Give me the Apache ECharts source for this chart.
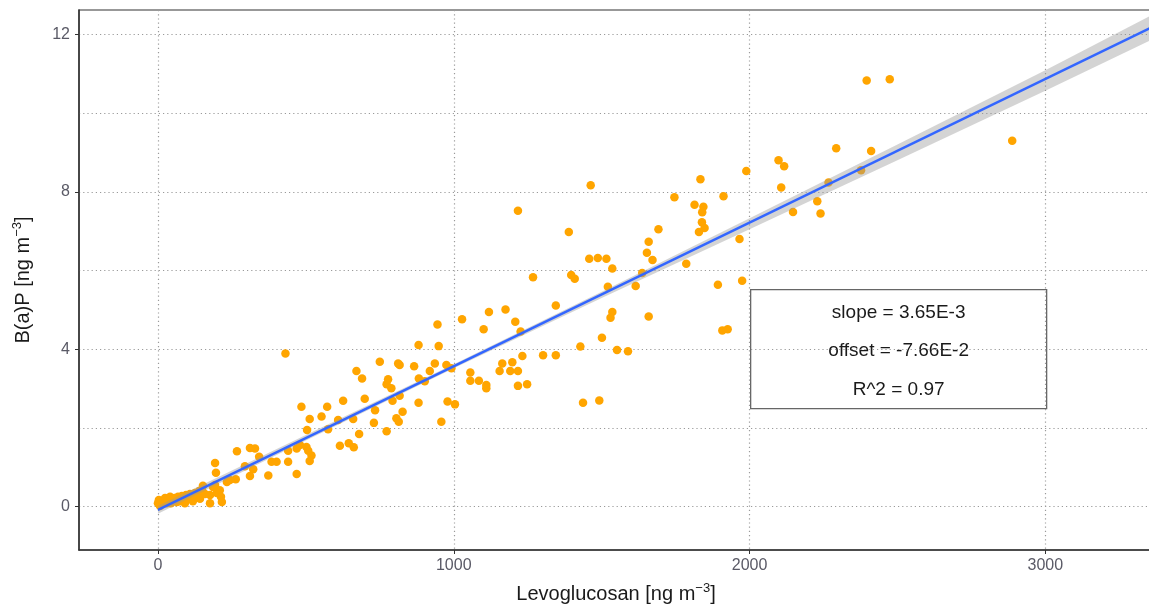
<!DOCTYPE html>
<html>
<head>
<meta charset="utf-8">
<script src="https://cdn.jsdelivr.net/npm/echarts@6/dist/echarts.min.js"></script>
<style>html,body{margin:0;padding:0;background:#fff;overflow:hidden;}#c{width:1149px;height:605px;}</style>
</head>
<body>
<div id="c"></div>
<script>
// Levoglucosan [ng m-3] (x) and B(a)P [ng m-3] (y)
const levoglucosan = [
  0,7,3,14,17,24,30,34,41,44,51,57,64,68,74,81,84,91,95,101,108,115,118,125,132,139,142,149,152,159,
  176,176,193,196,193,199,209,213,216,186,233,243,263,267,294,311,
  431,328,311,342,322,373,384,401,440,440,469,469,480,502,508,519,513,504,485,513,553,572,575,615,645,662,
  609,626,660,680,671,690,699,730,734,750,773,773,778,789,793,812,817,817,806,814,827,866,881,882,881,902,
  919,936,945,949,958,975,979,992,1004,1028,1056,1056,1085,1110,1110,1101,1119,1155,1164,1175,1191,1198,
  1208,1217,1217,1226,1232,1248,1302,
  1463,1834,1989,1217,1389,1746,1814,1844,1840,1912,1839,1848,1829,1692,1659,1653,1672,1966,1458,1487,
  1516,1536,1786,1268,1397,1409,1637,1521,1615,1893,1975,1345,1536,1530,1659,1501,1428,1345,1552,1589,
  1908,1926,1437,1492,
  2396,2474,2888,2293,2411,2098,2117,2377,2267,2107,2229,2147,2240
];
const bap = [
  0.09,0.02,0.17,0.07,0.14,0.22,0.09,0.20,0.25,0.09,0.17,0.22,0.12,0.25,0.14,0.27,0.17,0.09,0.30,0.20,0.32,0.22,0.14,0.35,0.27,0.40,0.20,0.42,0.53,0.32,
  0.30,0.09,1.11,0.86,0.55,0.35,0.42,0.25,0.12,0.50,0.63,0.68,0.70,1.41,1.03,0.78,
  3.89,1.48,1.49,1.27,0.95,0.79,1.14,1.14,1.14,1.42,0.83,1.48,1.57,1.52,1.42,1.30,1.16,1.95,2.54,2.23,2.29,2.54,1.97,1.55,1.61,1.51,
  2.20,2.69,2.23,1.85,3.45,3.26,2.74,2.13,2.45,3.68,1.92,3.11,3.24,3.01,2.69,3.64,3.60,2.82,2.25,2.16,2.41,3.57,4.11,3.26,2.64,3.19,
  3.45,3.64,4.63,4.08,2.16,3.60,2.67,3.52,2.60,4.76,3.41,3.20,3.20,3.09,3.01,4.51,4.95,3.45,3.64,5.01,3.45,3.67,
  4.70,3.45,3.07,4.45,3.83,3.11,3.85,
  8.17,8.32,8.53,7.52,6.98,7.86,7.67,7.62,7.48,7.89,7.23,7.08,6.98,7.05,6.73,6.45,6.27,6.80,6.30,6.32,
  6.30,6.05,6.17,5.83,5.89,5.79,5.94,5.59,5.61,5.64,5.74,5.11,4.95,4.80,4.83,4.29,4.07,3.85,3.98,3.95,
  4.48,4.51,2.64,2.70,
  10.83,10.86,9.30,9.11,9.04,8.80,8.65,8.55,8.24,8.11,7.76,7.49,7.45
];
// fitted line and its confidence band
const fitX = [0, 3400];
const fitY = [-0.08, 12.33];
const bandX = [0, 500, 1000, 1500, 2000, 2500, 3000, 3400];
const bandLow = [-0.18, 1.68, 3.52, 5.30, 7.05, 8.80, 10.57, 12.01];
const bandHigh = [0.02, 1.82, 3.62, 5.46, 7.33, 9.20, 11.09, 12.65];
const xTicks = [0, 1000, 2000, 3000];
const yTicks = [0, 4, 8, 12];
const yGrid = [0, 2, 4, 6, 8, 10, 12];
const stats = ['slope = 3.65E-3', 'offset = -7.66E-2', 'R^2 = 0.97'];

const chart = echarts.init(document.getElementById('c'), null, {renderer: 'canvas'});
const FONT = '"Liberation Sans", Arial, sans-serif';
const points = levoglucosan.map((x, i) => [x, bap[i]]);
const dotted = {color: '#9a9a9a', width: 1.2, type: [1.2, 3]};
const titleRich = {
  n: {fontSize: 20, color: '#1a1a1a', fontFamily: FONT, lineHeight: 24},
  s: {fontSize: 13, color: '#1a1a1a', fontFamily: FONT, lineHeight: 24, verticalAlign: 'top'}
};

chart.setOption({
  animation: false,
  backgroundColor: '#ffffff',
  grid: {left: 79, right: -4, top: 10, bottom: 55, containLabel: false, outerBoundsMode: 'none',
         show: true, borderColor: '#333', borderWidth: 1.2, backgroundColor: 'transparent'},
  xAxis: {
    type: 'value', min: -267, max: 3364,
    axisLine: {show: true, onZero: false, lineStyle: {color: '#333', width: 1.5}},
    axisTick: {show: true, length: 4, customValues: xTicks, lineStyle: {color: '#333', width: 1}},
    axisLabel: {customValues: xTicks, margin: 8, fontSize: 16, color: '#5a5a66', fontFamily: FONT, formatter: v => String(v)},
    splitLine: {show: true, lineStyle: dotted},
    name: '{n|Levoglucosan [ng m}{s|−3}{n|]}',
    nameLocation: 'middle', nameGap: 32,
    nameTextStyle: {rich: titleRich}
  },
  yAxis: [{
    type: 'value', min: -1.10, max: 12.62,
    axisLine: {show: true, onZero: false, lineStyle: {color: '#333', width: 1.5}},
    axisTick: {show: true, length: 4, customValues: yTicks, lineStyle: {color: '#333', width: 1}},
    axisLabel: {customValues: yTicks, margin: 9, fontSize: 16, color: '#5a5a66', fontFamily: FONT, formatter: v => String(v)},
    splitLine: {show: false},
    name: '{n|B(a)P [ng m}{s|−3}{n|]}',
    nameLocation: 'middle', nameGap: 44,
    nameTextStyle: {rich: titleRich}
  }, {
    type: 'value', min: -1.10, max: 12.62, position: 'left',
    axisLine: {show: false}, axisLabel: {show: false},
    axisTick: {show: false, customValues: yGrid},
    splitLine: {show: true, lineStyle: dotted}
  }],
  series: [{
    type: 'scatter', data: points, symbol: 'circle', symbolSize: 8.5,
    itemStyle: {color: '#FFA500', opacity: 1}, z: 2, silent: true
  }, {
    type: 'custom', data: [[0, 0]], z: 3, clip: true, silent: true,
    renderItem: function (params, api) {
      const pts = [];
      for (let i = 0; i < bandX.length; i++) pts.push(api.coord([bandX[i], bandHigh[i]]));
      for (let i = bandX.length - 1; i >= 0; i--) pts.push(api.coord([bandX[i], bandLow[i]]));
      return {type: 'polygon', shape: {points: pts}, style: {fill: 'rgba(153,153,153,0.42)', stroke: null}};
    }
  }, {
    type: 'line', data: fitX.map((x, i) => [x, fitY[i]]), showSymbol: false, symbol: 'none',
    lineStyle: {color: '#3366FF', width: 2.5}, z: 4, clip: true, silent: true
  }],
  graphic: [{
    type: 'group', left: 750, top: 289,
    children: [
      {type: 'rect', shape: {x: 0, y: 0, width: 296, height: 119}, style: {fill: '#fff', stroke: '#666', lineWidth: 1.3}},
      {type: 'text', x: 148, y: 23, style: {text: stats[0], font: '19px ' + FONT, fill: '#1a1a1a', textAlign: 'center', textVerticalAlign: 'middle'}},
      {type: 'text', x: 148, y: 61, style: {text: stats[1], font: '19px ' + FONT, fill: '#1a1a1a', textAlign: 'center', textVerticalAlign: 'middle'}},
      {type: 'text', x: 148, y: 100, style: {text: stats[2], font: '19px ' + FONT, fill: '#1a1a1a', textAlign: 'center', textVerticalAlign: 'middle'}}
    ]
  }]
});
</script>
</body>
</html>
